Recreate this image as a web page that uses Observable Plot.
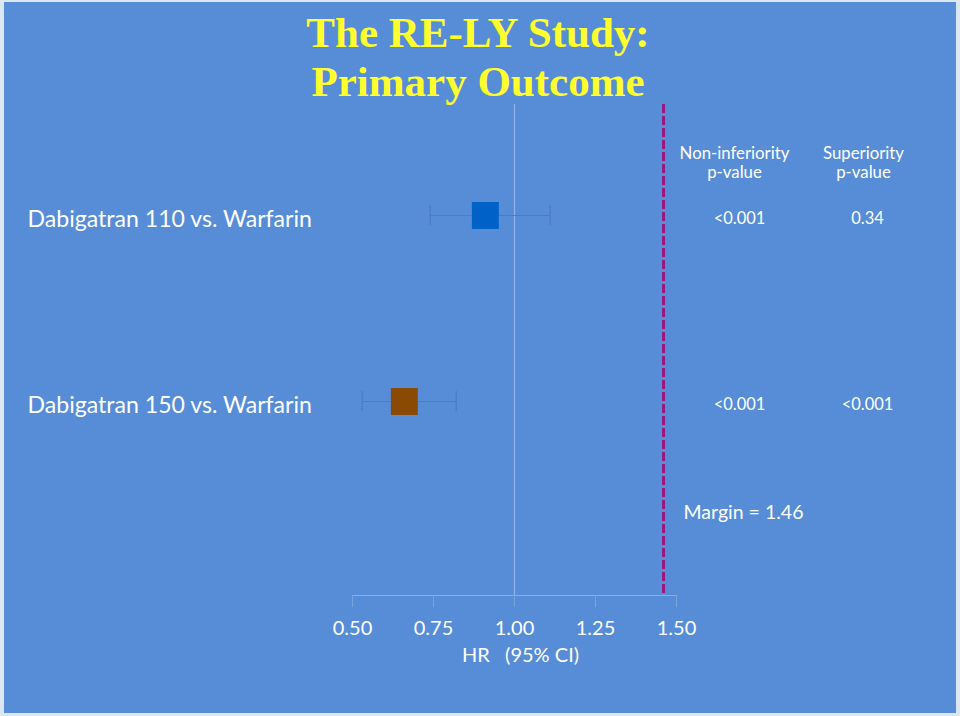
<!DOCTYPE html>
<html>
<head>
<meta charset="utf-8">
<script src="https://cdn.jsdelivr.net/npm/d3@7"></script>
<script src="https://cdn.jsdelivr.net/npm/@observablehq/plot@0.6"></script>
<style>
  html, body { margin: 0; padding: 0; background: #dce7f5; }
  #slide { position: absolute; left: 4px; top: 2px; width: 952px; height: 711px; background: #578dd6; overflow: hidden; }
  #title { position: absolute; left: -4px; top: 0; width: 956px; text-align: center;
           font-family: "Liberation Serif", "DejaVu Serif", serif; font-weight: bold;
           font-size: 43px; line-height: 49px; color: #ffff2e; padding-top: 6px; }
  #chart { position: absolute; left: 0; top: 98px; }
</style>
</head>
<body>
<div id="slide">
  <div id="title">The RE-LY Study:<br>Primary Outcome</div>
  <div id="chart"></div>
</div>
<script>
// ---- data ----
const comparisons = ["Dabigatran 110 vs. Warfarin", "Dabigatran 150 vs. Warfarin"];
const hazardRatio = [0.91, 0.66];
const ciLower = [0.74, 0.53];
const ciUpper = [1.11, 0.82];
const nonInferiorityP = ["<0.001", "<0.001"];
const superiorityP = ["0.34", "<0.001"];
const boxColors = ["#0062c8", "#8a4a02"];
const nonInferiorityMargin = 1.46;
const xTicks = [0.50, 0.75, 1.00, 1.25, 1.50];
const headers = ["Non-inferiority\np-value", "Superiority\np-value"];
const axisLabel = "HR\u00a0\u00a0 (95% CI)";

const rows = comparisons.map((name, i) => ({
  name, hr: hazardRatio[i], lo: ciLower[i], hi: ciUpper[i],
  ni: nonInferiorityP[i], sup: superiorityP[i], color: boxColors[i]
}));

const font = "Lato, 'Open Sans', sans-serif";

const chart = Plot.plot({
  width: 952,
  height: 615,
  marginLeft: 348,
  marginRight: 280,
  marginTop: 4,
  marginBottom: 120,
  style: { background: "transparent", fontFamily: font, color: "white", overflow: "visible" },
  x: { domain: [0.5, 1.5], ticks: xTicks },
  y: { type: "band", domain: comparisons, range: [21.5, 394.5], padding: 0, axis: null },
  marks: [
    Plot.frame({ anchor: "bottom", stroke: "#88aee8", strokeWidth: 1.2 }),
    Plot.axisX({ ticks: xTicks, tickFormat: d3.format(".2f"), tickSize: 12, tickPadding: 13,
                 stroke: "#7aa2dc", fill: "white", fontSize: 20, label: null }),
    Plot.ruleX([1], { stroke: "#8fb4ec", strokeWidth: 1.2 }),
    Plot.ruleX([nonInferiorityMargin], { stroke: "#9c1880", strokeWidth: 3, strokeDasharray: "9 3" }),
    Plot.ruleY(rows, { y: "name", x1: "lo", x2: "hi", stroke: "#4a7cc4", strokeWidth: 1.2 }),
    Plot.tickX(rows, { x: "lo", y: "name", stroke: "#4a7cc4", strokeWidth: 1.2, insetTop: 83, insetBottom: 83 }),
    Plot.tickX(rows, { x: "hi", y: "name", stroke: "#4a7cc4", strokeWidth: 1.2, insetTop: 83, insetBottom: 83 }),
    Plot.dot(rows, { x: "hr", y: "name", symbol: "square", r: 15.2, fill: "color", stroke: "none" }),
    Plot.text(rows, { y: "name", text: "name", frameAnchor: "left", textAnchor: "start", dx: -325, dy: 4,
                      fill: "white", fontSize: 23.1 }),
    Plot.text(rows, { y: "name", text: "ni", frameAnchor: "right", textAnchor: "middle", dx: 63, dy: 3, fill: "white", fontSize: 16.5 }),
    Plot.text(rows, { y: "name", text: "sup", frameAnchor: "right", textAnchor: "middle", dx: 191, dy: 3, fill: "white", fontSize: 16.5 }),
    Plot.text([headers[0]], { text: d => d, frameAnchor: "top-right", textAnchor: "middle", lineAnchor: "middle",
                              dx: 58, dy: 58, fill: "white", fontSize: 16.8, lineHeight: 1.13 }),
    Plot.text([headers[1]], { text: d => d, frameAnchor: "top-right", textAnchor: "middle", lineAnchor: "middle",
                              dx: 187, dy: 58, fill: "white", fontSize: 16.8, lineHeight: 1.13 }),
    Plot.text([nonInferiorityMargin], { x: d => d, text: d => `Margin = ${d}`, frameAnchor: "bottom", textAnchor: "start",
                                        dx: 20, dy: -77, fill: "white", fontSize: 19.5 }),
    Plot.text([axisLabel], { x: 1, text: d => d, frameAnchor: "bottom", dx: 6, dy: 66, fill: "white", fontSize: 20 })
  ]
});
document.getElementById("chart").appendChild(chart);
</script>
</body>
</html>
